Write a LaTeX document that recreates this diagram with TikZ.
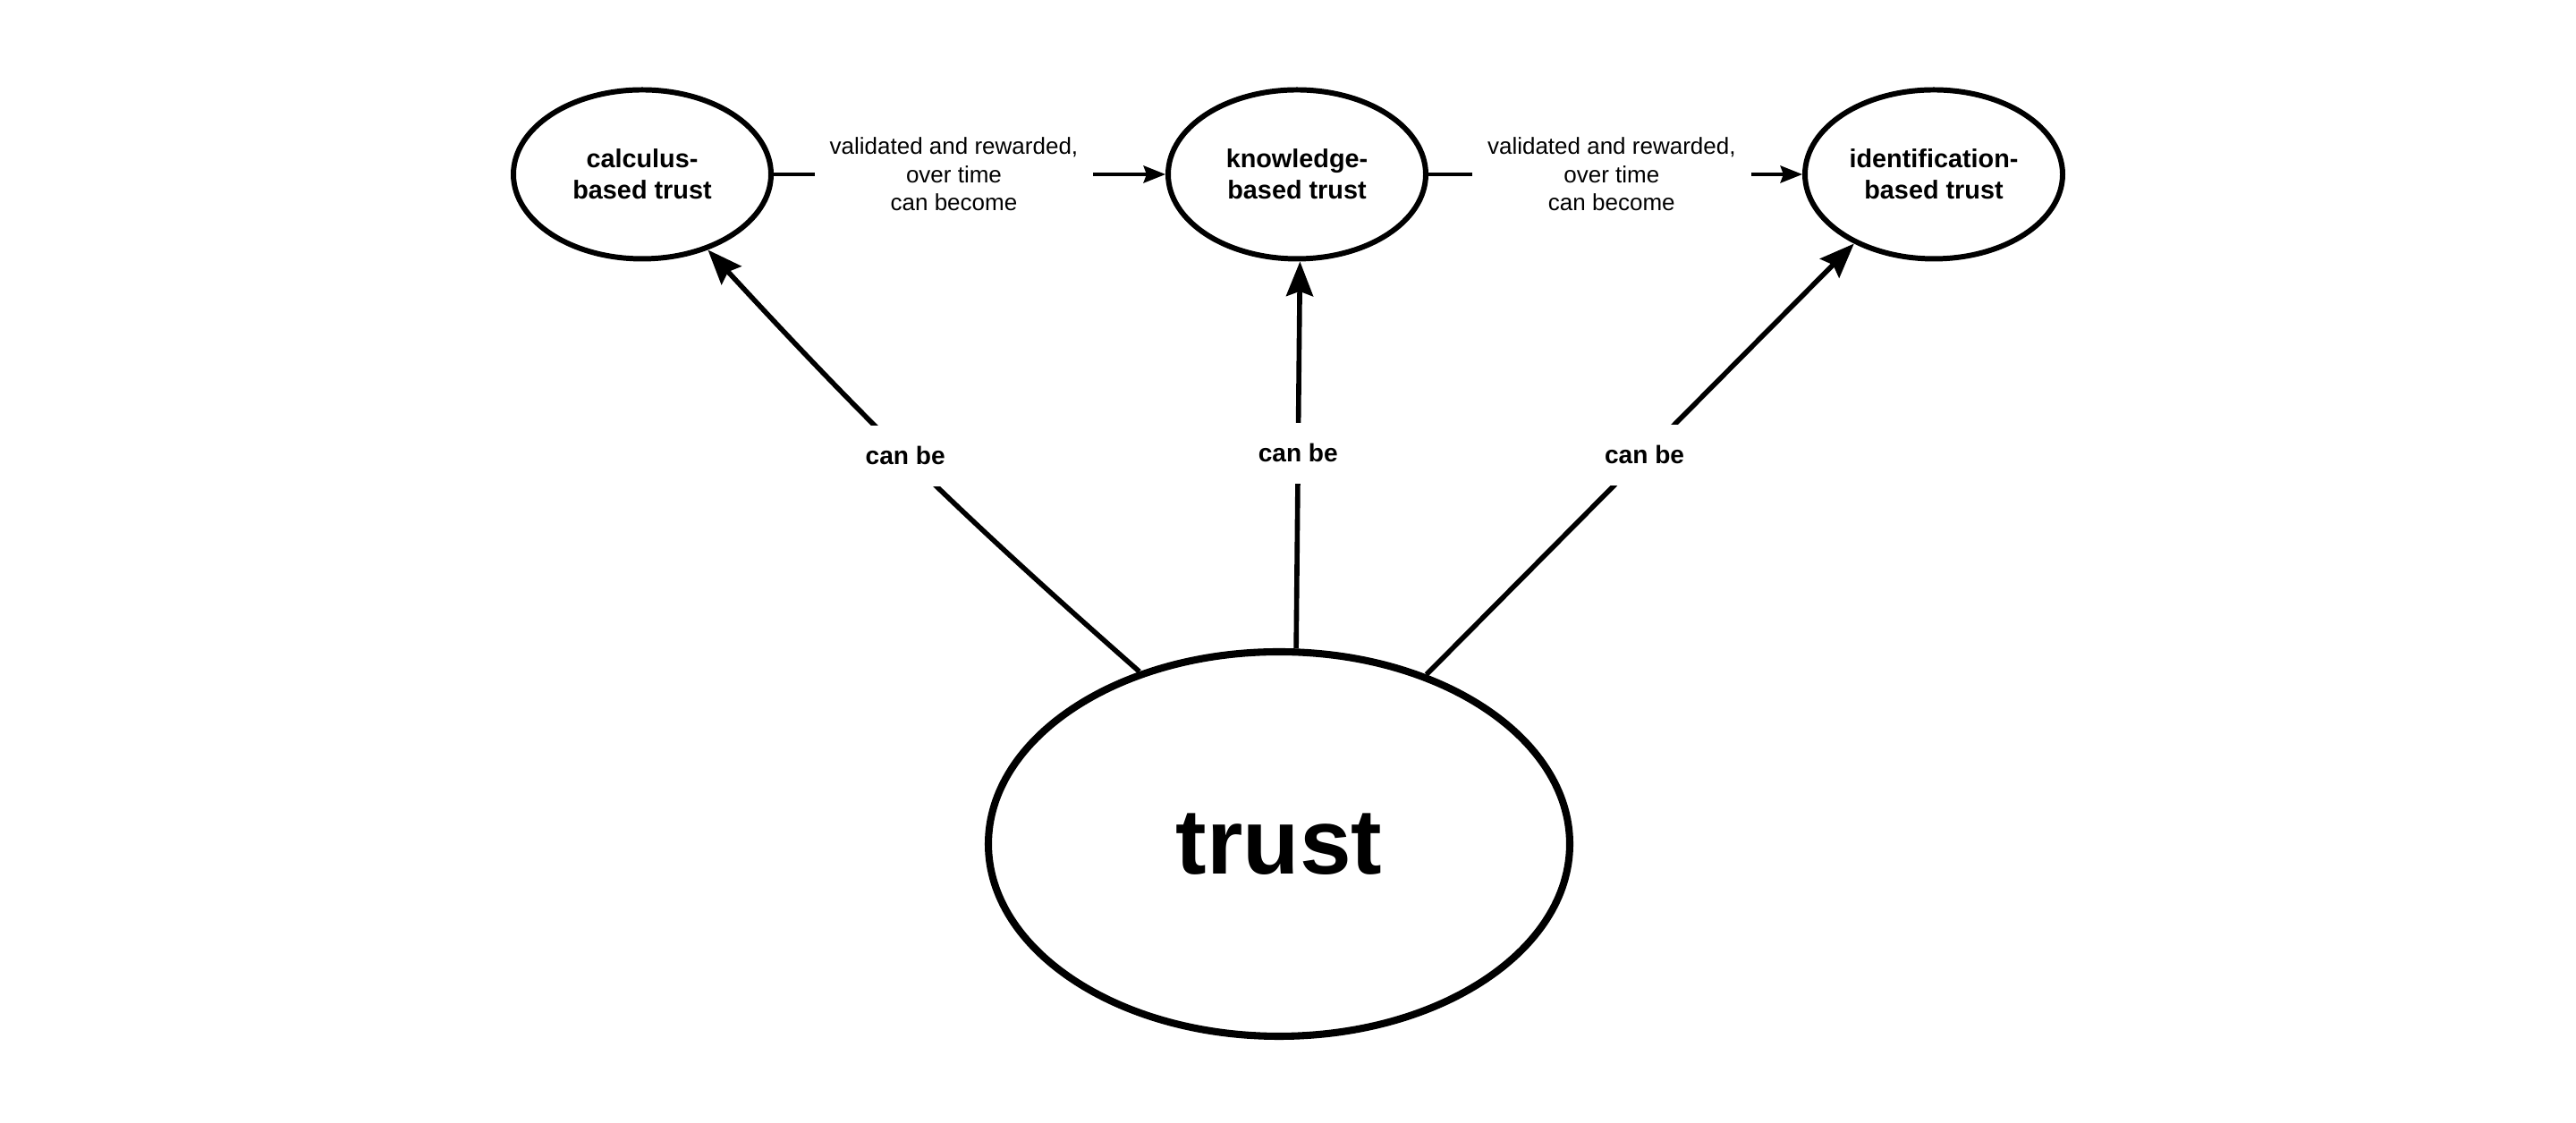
\documentclass[tikz,border=0pt]{standalone}
\usepackage{fontspec}
\setmainfont{Liberation Sans}
\usetikzlibrary{arrows.meta, shapes.geometric}

\begin{document}
\begin{tikzpicture}[
    bigtip/.style={-{Stealth[length=11pt,width=8.5pt,inset=1.5pt]}, line width=1.6pt},
    smalltip/.style={-{Stealth[length=7pt,width=5.5pt,inset=1pt]}, line width=0.9pt},
    canbe/.style={fill=white, font=\bfseries\fontsize{8}{9.6}\selectfont, inner xsep=3pt, inner ysep=6.7pt},
    overtime/.style={fill=white, align=center, font=\fontsize{7.4}{8.9}\selectfont, inner xsep=4.8pt, inner ysep=2pt}
  ]
  \useasboundingbox (0,0) rectangle (28.8,12.56);
  \begin{scope}[every node/.style={ellipse, draw, line width=1.7pt, align=center, inner sep=0pt,
      font=\bfseries\fontsize{8.2}{10}\selectfont, minimum width=2.88cm, minimum height=1.89cm}]
    \node (calc) at (7.18, 10.61) {calculus-\\based trust};
    \node (know) at (14.50, 10.61) {knowledge-\\based trust};
    \node (ident) at (21.62, 10.61) {identification-\\based trust};
    \node (trust) [line width=2.3pt, minimum width=6.5cm, minimum height=4.3cm,
      font=\bfseries\fontsize{29.5}{35}\selectfont] at (14.30, 3.12) {trust};
  \end{scope}
  % over time
  \path (calc) edge[smalltip] node[overtime, pos=0.46] {validated and rewarded,\\over time\\can become} (know);
  \path (know) edge[smalltip] node[overtime, pos=0.49] {validated and rewarded,\\over time\\can become} (ident);
  % can be
  \path (trust.129.5) edge[bigtip, bend left=3] node[canbe, pos=0.53] {can be} (calc.-49.4);
  \path (trust.85.5) edge[bigtip] node[canbe, pos=0.505] {can be} (know.-88);
  \path (trust.49.6) edge[bigtip] node[canbe, pos=0.51] {can be} (ident.-139);
\end{tikzpicture}
\end{document}
